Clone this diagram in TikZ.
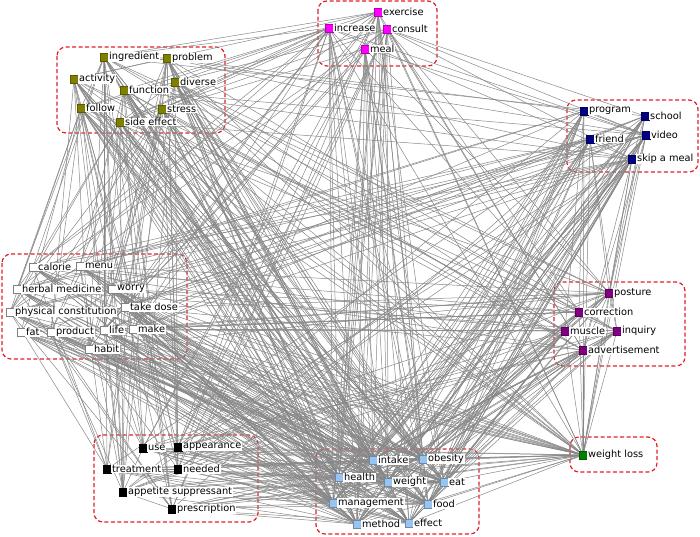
\documentclass[tikz,border=0pt]{standalone}
\usepackage{fontspec}
\setmainfont{DejaVu Sans}
\usetikzlibrary{backgrounds}

\definecolor{kwred}{RGB}{228,30,38}
\definecolor{kwedge}{RGB}{135,135,135}
\definecolor{kwolive}{RGB}{128,128,0}
\definecolor{kwmagenta}{RGB}{255,0,255}
\definecolor{kwnavy}{RGB}{0,0,128}
\definecolor{kwpurple}{RGB}{128,0,128}
\definecolor{kwlight}{RGB}{153,196,240}
\definecolor{kwgreen}{RGB}{0,128,0}

\tikzset{
  word/.style={rectangle, minimum size=7.5pt, inner sep=0pt, line width=0.4pt},
  lbl/.style={fill=white, inner sep=0.7pt, font=\fontsize{9.8}{11}\selectfont},
  grp/.style={draw=kwred, line width=1.2pt, dash pattern=on 4pt off 2.5pt, rounded corners=9pt},
  link/.style={draw=kwedge, line width=0.5pt}
}

\begin{document}
\begin{tikzpicture}[x=1pt, y=-1pt, label distance=0.3pt]
\useasboundingbox (0,0) rectangle (700,536);

% keyword clusters
\foreach \n/\x/\y/\t in {intake/373/460/intake, obesity/423/459/obesity,
    health/339/477/health, weight/388/482/weight, eat/444/482/eat,
    management/333/503/management, food/428/504/food,
    method/357/524/method, effect/409/523/effect}
  \node[word, fill=kwlight, draw=kwlight!70!black, label={[lbl]right:\t}] (\n) at (\x,\y) {};
\node[word, fill=kwgreen, draw=kwgreen!70!black, label={[lbl]right:weight loss}] (weightloss) at (583,455) {};

\foreach \n/\x/\y/\t in {ingredient/104/57/ingredient, problem/167/58/problem,
    activity/74/79/activity, function/124/90/function, diverse/175/82/diverse,
    follow/81/108/follow, stress/162/109/stress, sideeffect/120/122/side effect}
  \node[word, fill=kwolive, draw=kwolive!70!black, label={[lbl]right:\t}] (\n) at (\x,\y) {};

\foreach \n/\x/\y/\t in {exercise/378/12/exercise, increase/329/28/increase,
    consult/387/29/consult, meal/365/49/meal}
  \node[word, fill=kwmagenta, draw=kwmagenta!70!black, label={[lbl]right:\t}] (\n) at (\x,\y) {};

\foreach \n/\x/\y/\t in {program/584/111/program, school/645/116/school,
    friend/590/139/friend, video/646/135/video, skipmeal/632/159/skip a meal}
  \node[word, fill=kwnavy, draw=kwnavy!70!black, label={[lbl]right:\t}] (\n) at (\x,\y) {};

\foreach \n/\x/\y/\t in {calorie/33/267/calorie, menu/80/266/menu,
    herbal/17/289/herbal medicine, worry/112/289/worry, takedose/125/307/take dose,
    physical/10/312/physical constitution, fat/21/332/fat, product/51/332/product,
    life/104/330/life, make/133/329/make, habit/89/349/habit}
  \node[word, fill=white, draw=gray, label={[lbl]right:\t}] (\n) at (\x,\y) {};

\foreach \n/\x/\y/\t in {posture/609/293/posture, correction/579/312/correction,
    muscle/565/331/muscle, inquiry/617/331/inquiry, advert/583/350/advertisement}
  \node[word, fill=kwpurple, draw=kwpurple!70!black, label={[lbl]right:\t}] (\n) at (\x,\y) {};

\foreach \n/\x/\y/\t in {use/143/448/use, appearance/178/447/appearance,
    treatment/107/469/treatment, needed/178/469/needed,
    appetite/123/492/appetite suppressant, prescription/172/509/prescription}
  \node[word, fill=black, draw=black, label={[lbl]right:\t}] (\n) at (\x,\y) {};

% cluster frames
\begin{scope}[on background layer]
\draw[grp] (57,47) rectangle (225,133);
\draw[grp] (318,1) rectangle (437,66);
\draw[grp] (567,100) rectangle (698,172);
\draw[grp] (2,254) rectangle (187,359);
\draw[grp] (554,282) rectangle (685,366);
\draw[grp] (94,435) rectangle (258,522);
\draw[grp] (316,449) rectangle (479,534);
\draw[grp] (570,437) rectangle (657,472);

% co-occurrence links, hubs first in the list
\def\allwords{intake,obesity,health,weight,eat,management,food,method,effect,weightloss,
  ingredient,problem,activity,function,diverse,follow,stress,sideeffect,
  exercise,increase,consult,meal,program,school,friend,video,skipmeal,
  calorie,menu,herbal,worry,takedose,physical,fat,product,life,make,habit,
  posture,correction,muscle,inquiry,advert,
  use,appearance,treatment,needed,appetite,prescription}
\pgfmathsetseed{11}
\foreach \a [count=\i] in \allwords {
  \foreach \b [count=\j] in \allwords {
    \ifnum\j>\i
      \pgfmathparse{rnd}
      \ifnum\i<11 \def\p{0.88}\else\def\p{0.28}\fi
      \ifdim\pgfmathresult pt<\p pt
        \draw[link] (\a) -- (\b);
      \fi
    \fi
  }
}
\end{scope}
\end{tikzpicture}
\end{document}
